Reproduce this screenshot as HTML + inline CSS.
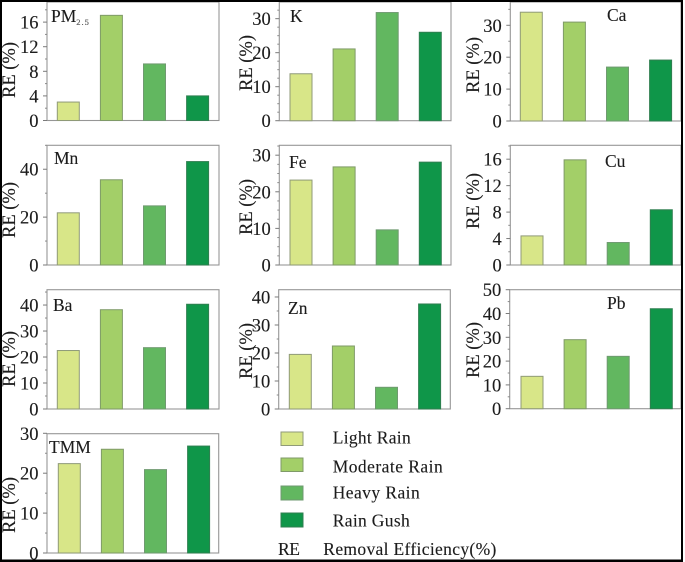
<!DOCTYPE html>
<html lang="en">
<head>
<meta charset="utf-8">
<title>Removal efficiency by rain intensity</title>
<style>
html,body{margin:0;padding:0;background:#fff;}
svg{display:block;filter:blur(0.35px);}
text{font-family:"Liberation Serif",serif;fill:#1c1c1c;stroke:#1c1c1c;stroke-width:0.12px;}
</style>
</head>
<body>
<svg id="chart" xmlns="http://www.w3.org/2000/svg" width="685" height="562" viewBox="0 0 685 562">
  <rect width="685" height="562" fill="#fff"/>
  <g id="panels"></g>

  <g font-size="17.5">
    <text x="51" y="22">PM<tspan font-size="8.5" dy="3" fill="#666" letter-spacing="1">2.5</tspan></text>
    <text x="290" y="22">K</text>
    <text x="607" y="21">Ca</text>
    <text x="54" y="164">Mn</text>
    <text x="289" y="168">Fe</text>
    <text x="605" y="167">Cu</text>
    <text x="53" y="311">Ba</text>
    <text x="288" y="314">Zn</text>
    <text x="607" y="309">Pb</text>
    <text x="49" y="453">TMM</text>
  </g>

  <g font-size="17.5">
    <g>
      <rect x="281" y="432" width="22" height="13.5" fill="#d8e688" stroke="#8f9a78"/>
      <text x="332.7" y="443.3" textLength="78">Light Rain</text>
    </g>
    <g>
      <rect x="281" y="458" width="22" height="13.5" fill="#a3cf68" stroke="#7f9a68"/>
      <text x="332.7" y="472.7" textLength="110">Moderate Rain</text>
    </g>
    <g>
      <rect x="281" y="486" width="22" height="14" fill="#62b760" stroke="#6f9a70"/>
      <text x="332.7" y="498.3" textLength="87">Heavy Rain</text>
    </g>
    <g>
      <rect x="281" y="513" width="22" height="14" fill="#0f9649" stroke="#2f7f50"/>
      <text x="332.7" y="526.7" textLength="77">Rain Gush</text>
    </g>
    <text x="278" y="555" textLength="22">RE</text>
    <text x="323.3" y="555" textLength="173">Removal Efficiency(%)</text>
  </g>

  <g fill="#000">
    <rect x="0" y="0" width="683" height="2"/>
    <rect x="0" y="0" width="2" height="562"/>
    <rect x="681" y="0" width="2" height="562"/>
    <rect x="0" y="559.5" width="683" height="2.5"/>
  </g>
</svg>

<script>
const categories = ['Light Rain', 'Moderate Rain', 'Heavy Rain', 'Rain Gush'];
const barColors = ['#d8e688', '#a3cf68', '#62b760', '#0f9649'];
const barStrokes = ['#8f9a78', '#7f9a68', '#6f9a70', '#2f7f50'];

const pm25Values = [3.0, 17.1, 9.2, 4.0];
const kValues = [13.8, 21.1, 31.8, 26.0];
const caValues = [34.1, 31.0, 16.9, 19.1];
const mnValues = [21.8, 35.6, 24.7, 43.2];
const feValues = [23.2, 26.8, 9.6, 28.1];
const cuValues = [4.4, 15.9, 3.4, 8.35];
const baValues = [22.5, 38.2, 23.6, 40.3];
const znValues = [19.5, 22.5, 7.75, 37.5];
const pbValues = [13.6, 29.0, 22.0, 42.0];
const tmmValues = [22.4, 26.0, 20.9, 26.8];

const pm25Ticks = [0, 4, 8, 12, 16];
const kTicks = [0, 10, 20, 30];
const caTicks = [0, 10, 20, 30];
const mnTicks = [0, 20, 40];
const feTicks = [0, 10, 20, 30];
const cuTicks = [0, 4, 8, 12, 16];
const baTicks = [0, 10, 20, 30, 40];
const znTicks = [0, 10, 20, 30, 40];
const pbTicks = [0, 10, 20, 30, 40, 50];
const tmmTicks = [0, 10, 20, 30];

const SVG_NS = 'http://www.w3.org/2000/svg';
const root = document.getElementById('panels');

function make(tag, parent) {
  const el = document.createElementNS(SVG_NS, tag);
  parent.appendChild(el);
  return el;
}

function drawPanel(name, values, ticks, minorStep, yMax, left, right, top, bottom, barOffset, titleX, titleY) {
  const yScale = function (v) { return bottom - (v / yMax) * (bottom - top); };
  const xScale = function (i) { return left + barOffset + i * 43.1; };
  const barWidth = 22;

  const g = make('g', root);
  
  

  const frame = make('rect', g);
  
  
  frame.setAttribute('x', left);
  frame.setAttribute('y', top);
  frame.setAttribute('width', right - left);
  frame.setAttribute('height', bottom - top);
  frame.setAttribute('fill', 'none');
  frame.setAttribute('stroke', '#969696');
  frame.setAttribute('stroke-width', '1.1');

  const count = Math.floor(yMax / minorStep + 1e-6);
  for (let m = 0; m <= count; m++) {
    const v = m * minorStep;
    if (ticks.indexOf(v) >= 0) continue;
    const minor = make('line', g);
    
    
    minor.setAttribute('x1', left - 2);
    minor.setAttribute('x2', left);
    minor.setAttribute('y1', yScale(v));
    minor.setAttribute('y2', yScale(v));
    minor.setAttribute('stroke', '#8a8a8a');
  }

  ticks.forEach(function (t) {
    const tick = make('line', g);
    
    
    tick.setAttribute('x1', left - 4);
    tick.setAttribute('x2', left);
    tick.setAttribute('y1', yScale(t));
    tick.setAttribute('y2', yScale(t));
    tick.setAttribute('stroke', '#7a7a7a');

    const label = make('text', g);
    
    
    label.setAttribute('x', left - 8.5);
    label.setAttribute('y', yScale(t) + 6.5);
    label.setAttribute('text-anchor', 'end');
    label.setAttribute('font-size', '18.5');
    label.textContent = String(t);
  });

  values.forEach(function (v, i) {
    const bar = make('rect', g);
    
    
    bar.setAttribute('x', xScale(i));
    bar.setAttribute('y', yScale(v));
    bar.setAttribute('width', barWidth);
    bar.setAttribute('height', bottom - yScale(v));
    bar.setAttribute('fill', barColors[i]);
    bar.setAttribute('stroke', barStrokes[i]);
    bar.setAttribute('stroke-width', '1');
  });

  const yTitle = make('text', g);
  
  
  yTitle.setAttribute('transform', 'translate(' + titleX + ' ' + titleY + ') rotate(-90)');
  yTitle.setAttribute('text-anchor', 'middle');
  yTitle.setAttribute('font-size', '18.5');
  yTitle.textContent = 'RE (%)';
}

drawPanel('pm25', pm25Values, pm25Ticks, 2, 19.27, 47, 219, 2, 120.5, 10.3, 15, 70);
drawPanel('k', kValues, kTicks, 2.5, 34.9, 279.3, 451, 2, 120.7, 10.7, 252, 63);
drawPanel('ca', caValues, caTicks, 5, 37.3, 510.3, 681, 2, 121, 10, 479, 65);
drawPanel('mn', mnValues, mnTicks, 10, 50, 47, 219, 145.3, 265, 10.3, 15, 210);
drawPanel('fe', feValues, feTicks, 2.5, 32.7, 279.3, 451, 145.3, 265, 10.7, 252, 207);
drawPanel('cu', cuValues, cuTicks, 2, 18.1, 510.3, 681, 145.3, 265, 10.7, 479, 201);
drawPanel('ba', baValues, baTicks, 5, 45.9, 47, 219, 289.7, 409, 10.3, 15, 359);
drawPanel('zn', znValues, znTicks, 5, 42.6, 278.7, 450.3, 289.7, 409, 10.6, 252, 351);
drawPanel('pb', pbValues, pbTicks, 5, 50, 509.7, 681, 289.7, 408.7, 11.3, 479, 350);
drawPanel('tmm', tmmValues, tmmTicks, 5, 29.9, 47, 218.7, 433.7, 553, 11.3, 15, 505);
</script>
</body>
</html>
